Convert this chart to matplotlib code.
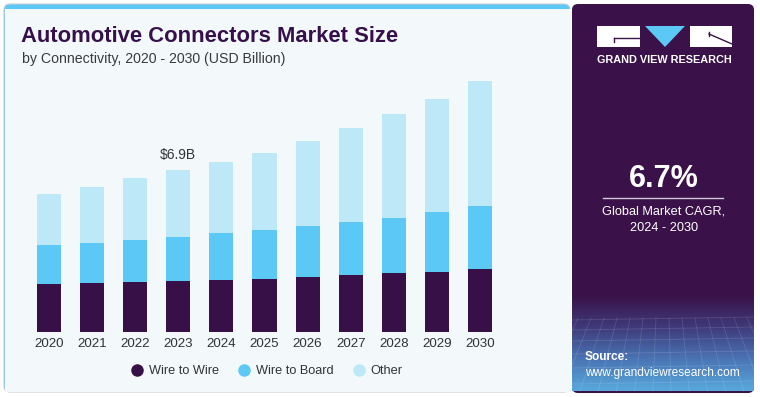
#!/usr/bin/env python3

import numpy as np
import matplotlib
matplotlib.use("Agg")
import matplotlib.pyplot as plt
from matplotlib.patches import FancyBboxPatch, Rectangle, Polygon
from matplotlib.lines import Line2D

plt.rcParams["font.family"] = ["Liberation Sans", "DejaVu Sans"]

## data (USD Billion)
years = ["2020", "2021", "2022", "2023", "2024", "2025",
         "2026", "2027", "2028", "2029", "2030"]
wire_to_wire = [2.04, 2.08, 2.13, 2.19, 2.23, 2.27, 2.33, 2.42, 2.52, 2.57, 2.68]
wire_to_board = [1.66, 1.73, 1.78, 1.85, 1.98, 2.09, 2.18, 2.29, 2.36, 2.56, 2.70]
other = [2.19, 2.39, 2.65, 2.86, 3.07, 3.30, 3.64, 4.00, 4.41, 4.82, 5.33]
series_names = ["Wire to Wire", "Wire to Board", "Other"]
highlight_year = "2023"
highlight_label = "\\$6.9B"

# colours
dark = "#361046"
mid = "#5bc8f5"
light = "#bce8f8"
panel_bg = "#f3f8fb"
side_bg = "#3a1249"
W, H = 760, 397

fig = plt.figure(figsize=(W / 100, H / 100), dpi=100)
fig.patch.set_facecolor("white")

## background / decoration layer in pixel coords
bg = fig.add_axes([0, 0, 1, 1], zorder=0)
bg.set_xlim(0, W)
bg.set_ylim(H, 0)
bg.axis("off")

# light panel with cyan top strip
bg.add_patch(FancyBboxPatch((4, 4), 566, 388, boxstyle="round,pad=0,rounding_size=6",
                            facecolor=mid, edgecolor="#c8cdd2", lw=0.8))
bg.add_patch(Rectangle((4.5, 9), 566, 382.5, facecolor=panel_bg, edgecolor="none"))

# dark side panel
bg.add_patch(FancyBboxPatch((572, 4), 182, 389, boxstyle="round,pad=0,rounding_size=6",
                            facecolor=side_bg, edgecolor="none"))
# gradient at bottom of side panel (purple at top -> blue at bottom)
grad = np.linspace(0, 1, 100)[:, None]
cmap = matplotlib.colors.LinearSegmentedColormap.from_list(
    "g", [side_bg, "#3f3a7a", "#4a74b4", "#58a8dc"])
bg.imshow(grad, extent=(572, 754, 391, 295), origin="upper", cmap=cmap,
          aspect="auto", zorder=1)
# faint mesh lines
for k in range(16):
    xs = 565 + k * 13
    bg.add_line(Line2D([xs, 664 + (xs - 664) * 1.4], [318, 391],
                       color="white", alpha=0.13, lw=0.6, zorder=2))
for yy in [320, 330, 341, 354, 368, 384]:
    bg.add_line(Line2D([572, 754], [yy, yy - 3], color="white", alpha=0.13, lw=0.6, zorder=2))
# keep the gradient inside the side panel
bg.add_patch(Rectangle((754, 290), 6, 107, facecolor="white", edgecolor="none", zorder=3))
bg.add_patch(Rectangle((560, 393), 200, 4, facecolor="white", edgecolor="none", zorder=3))

# logo
bg.add_patch(Rectangle((597, 26), 43, 21, facecolor="white", edgecolor="none", zorder=4))
bg.add_line(Line2D([614, 640], [38, 38], color=side_bg, lw=1.0, zorder=5))
bg.add_line(Line2D([614, 614], [38, 42], color=side_bg, lw=1.0, zorder=5))
bg.add_patch(Polygon([(645, 26), (685, 26), (665, 47)], closed=True,
                     facecolor=mid, edgecolor="none", zorder=4))
bg.add_patch(Rectangle((690, 26), 42, 21, facecolor="white", edgecolor="none", zorder=4))
bg.add_line(Line2D([709, 732], [34, 44], color=side_bg, lw=1.0, zorder=5))
bg.add_line(Line2D([709, 709], [32, 36], color=side_bg, lw=1.0, zorder=5))
bg.text(664.5, 60, "GRAND VIEW RESEARCH", color="white", fontsize=7.8,
        fontweight="bold", ha="center", va="center", zorder=5)

# CAGR block
bg.text(664, 179, "6.7%", color="white", fontsize=22, fontweight="bold",
        ha="center", va="center", zorder=5)
bg.add_line(Line2D([603, 723], [198, 198], color="#d0c8d8", lw=1.0, zorder=5))
bg.text(664, 212, "Global Market CAGR,", color="white", fontsize=9.2,
        ha="center", va="center", zorder=5)
bg.text(664, 228, "2024 - 2030", color="white", fontsize=9.2,
        ha="center", va="center", zorder=5)

# source
bg.text(585, 357, "Source:", color="white", fontsize=8.6, fontweight="bold",
        ha="left", va="center", zorder=5)
bg.text(585, 373, "www.grandviewresearch.com", color="white", fontsize=8.6,
        ha="left", va="center", zorder=5)

# titles
bg.text(21, 36, "Automotive Connectors Market Size", color="#35104a", fontsize=15.8,
        fontweight="bold", ha="left", va="center", zorder=5)
bg.text(22, 59, "by Connectivity, 2020 - 2030 (USD Billion)", color="#3a3a3a",
        fontsize=10.2, ha="left", va="center", zorder=5)

## chart
ax = fig.add_axes([27.5 / W, 65 / H, 474 / W, 281 / H], zorder=2)
ax.patch.set_alpha(0)
x = np.arange(len(years))
bw = 0.56
b1 = np.array(wire_to_wire)
b2 = np.array(wire_to_board)
b3 = np.array(other)
ax.bar(x, b1, bw, color=dark, label=series_names[0])
ax.bar(x, b2, bw, bottom=b1, color=mid, label=series_names[1])
ax.bar(x, b3, bw, bottom=b1 + b2, color=light, label=series_names[2])

hi = years.index(highlight_year)
ax.text(hi, (b1 + b2 + b3)[hi] + 0.35, highlight_label, ha="center", va="bottom",
        fontsize=10, color="#333333")

ax.set_xlim(-0.5, len(years) - 0.5)
ax.set_ylim(0, 12)
ax.set_xticks(x)
ax.set_xticklabels(years, fontsize=9.6, color="#333333")
ax.tick_params(axis="x", length=0, pad=4)
ax.set_yticks([])
for s in ax.spines.values():
    s.set_visible(False)

handles = [Line2D([0], [0], marker="o", color="none", markerfacecolor=c,
                  markeredgecolor="none", markersize=9, label=n)
           for c, n in zip([dark, mid, light], series_names)]
fig.legend(handles=handles, loc="center", bbox_to_anchor=(266 / W, 1 - 371 / H),
           ncol=3, frameon=False, fontsize=9.2, handletextpad=0.3, columnspacing=1.4,
           labelcolor="#333333", handlelength=1.2)

fig.savefig("out.png", dpi=100, facecolor=fig.get_facecolor())
